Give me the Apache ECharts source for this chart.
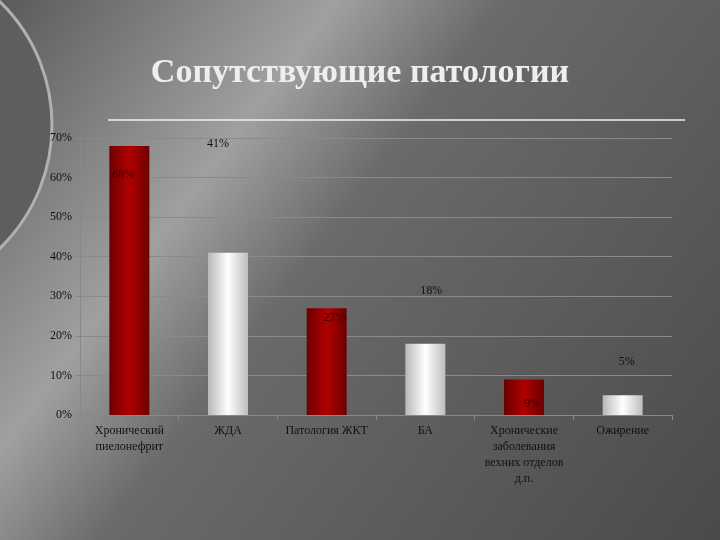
<!DOCTYPE html>
<html><head><meta charset="utf-8">
<script src="https://cdn.jsdelivr.net/npm/echarts@6/dist/echarts.min.js"></script>
<style>html,body{margin:0;padding:0;background:#555}#c{width:720px;height:540px}</style>
</head><body><div id="c"></div>
<script>
const categories = ['Хронический\nпиелонефрит','ЖДА','Патология ЖКТ','БА','Хронические\nзаболевания\nвехних отделов\nд.п.','Ожирение'];
const values = [68, 41, 27, 18, 9, 5];
const yTicks = [0,10,20,30,40,50,60,70];
const labelOffsets = [[-6,40],[-10,-98],[8,21],[6,-42],[8,35],[4,-22]];

const red = {type:'linear',x:0,y:0,x2:1,y2:0,colorStops:[{offset:0,color:'#6e0000'},{offset:0.5,color:'#b00000'},{offset:1,color:'#6e0000'}]};
const white = {type:'linear',x:0,y:0,x2:1,y2:0,colorStops:[{offset:0,color:'#b8b8b8'},{offset:0.5,color:'#ffffff'},{offset:1,color:'#bdbdbd'}]};

const chart = echarts.init(document.getElementById('c'));
chart.setOption({
  backgroundColor:{type:'linear',x:0,y:0,x2:1,y2:1,colorStops:[{offset:0,color:'#5a5a5a'},{offset:0.3,color:'#a0a0a0'},{offset:0.45,color:'#6a6a6a'},{offset:1,color:'#4a4a4a'}]},
  graphic:[
    {type:'circle',shape:{cx:-120,cy:125,r:172},style:{fill:'#5e5e5e',stroke:'#b0b0b0',lineWidth:3},z:-1},
    {type:'line',shape:{x1:108,y1:120,x2:685,y2:120},style:{stroke:'#f0f0f0',lineWidth:1.5}},
    {type:'text',left:'center',top:56,style:{text:'Сопутствующие патологии',fill:'#eeeeee',font:'bold 34px "Liberation Serif", serif',shadowColor:'rgba(0,0,0,0.6)',shadowBlur:3,shadowOffsetX:2,shadowOffsetY:2}}
  ],
  grid:{left:80,right:48,top:138,bottom:125},
  xAxis:{type:'category',data:categories,
    axisLine:{lineStyle:{color:'#888'}},axisTick:{show:true,lineStyle:{color:'#888'}},
    axisLabel:{color:'#111',fontFamily:'Liberation Serif',fontSize:12,interval:0,lineHeight:16}},
  yAxis:{type:'value',min:0,max:70,interval:10,
    axisLabel:{formatter:'{value}%',color:'#111',fontFamily:'Liberation Serif',fontSize:12},
    axisLine:{show:true,lineStyle:{color:'#888'}},axisTick:{show:true,lineStyle:{color:'#888'}},
    splitLine:{lineStyle:{color:'#8a8a8a'}}},
  series:[{type:'bar',barWidth:40,
    data:values.map((v,i)=>({value:v,itemStyle:{color:i%2===0?red:white},
      label:{show:true,position:'top',offset:labelOffsets[i],formatter:'{c}%',color:i%2===0?'#3a0000':'#111',fontFamily:'Liberation Serif',fontSize:12}}))
  }]
});
</script></body></html>
